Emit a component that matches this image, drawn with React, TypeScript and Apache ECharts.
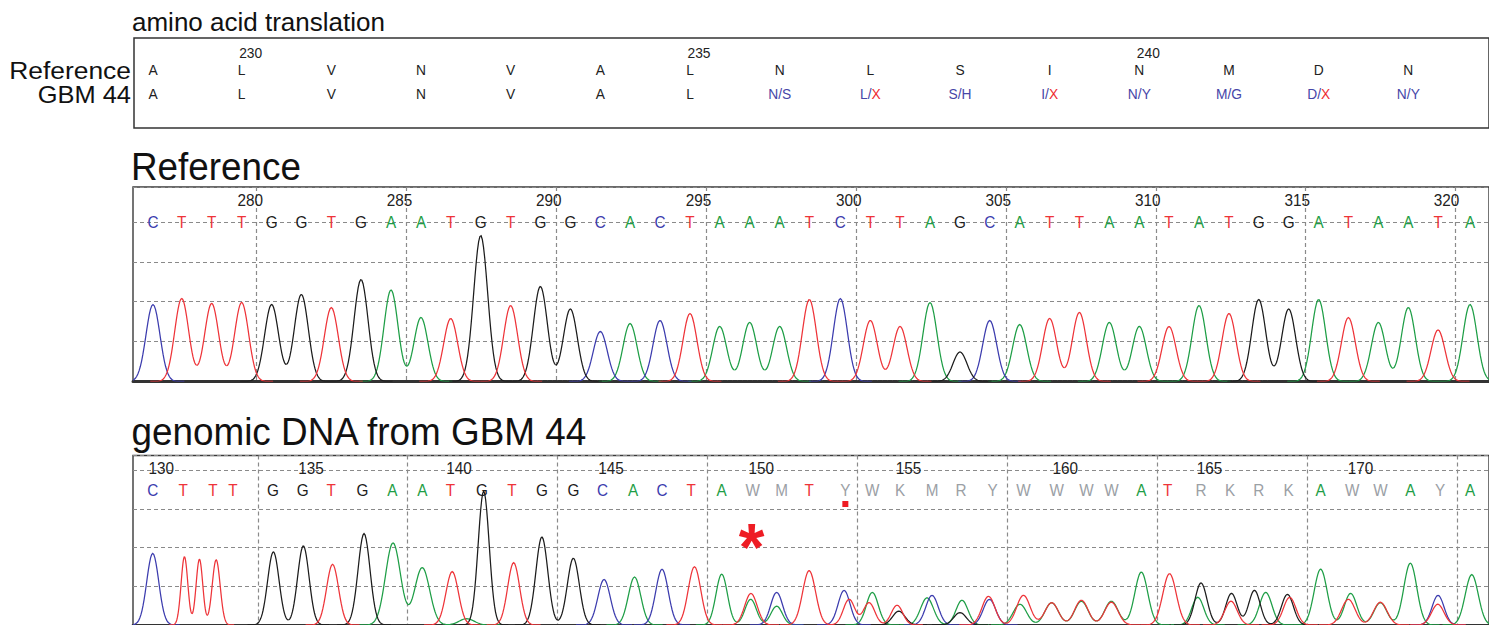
import React, { useEffect, useRef } from 'react';
import * as echarts from 'echarts';

const FONT = '"Liberation Sans", Arial, Helvetica, sans-serif';

const BASE_COLORS: Record<string, string> = { A: '#1e9e46', C: '#3c3cae', G: '#1c1c1c', T: '#ee3439' };
const AMBIG_COLOR = '#9ba0a5';
const AA_BLUE = '#4646a8';
const AA_RED = '#ee2b30';
const GRID_DASH = { color: '#8a8a8a', width: 1.2, type: [4, 3] as number[] };

// ---------- amino acid translation ----------
const aaFirstResidue = 229;
const aaReference = ['A', 'L', 'V', 'N', 'V', 'A', 'L', 'N', 'L', 'S', 'I', 'N', 'M', 'D', 'N'];
const aaGbm44 = ['A', 'L', 'V', 'N', 'V', 'A', 'L', 'N/S', 'L/X', 'S/H', 'I/X', 'N/Y', 'M/G', 'D/X', 'N/Y'];

// ---------- reference trace ----------
const refFirstBase = 277;
const refBases = ['C', 'T', 'T', 'T', 'G', 'G', 'T', 'G', 'A', 'A', 'T', 'G', 'T', 'G', 'G', 'C', 'A', 'C', 'T', 'A', 'A', 'A', 'T', 'C', 'T', 'T', 'A', 'G', 'C', 'A', 'T', 'T', 'A', 'A', 'T', 'A', 'T', 'G', 'G', 'A', 'T', 'A', 'A', 'T', 'A'];
const refBaseScans = [3318.5, 3330.0, 3342.0, 3354.0, 3366.0, 3377.9, 3389.9, 3401.8, 3413.8, 3425.8, 3437.7, 3449.7, 3461.7, 3473.6, 3485.6, 3497.6, 3509.5, 3521.5, 3533.5, 3545.4, 3557.4, 3569.4, 3581.3, 3593.7, 3605.7, 3617.6, 3629.6, 3641.6, 3653.5, 3665.5, 3677.5, 3689.4, 3701.4, 3713.4, 3725.3, 3737.3, 3749.3, 3761.2, 3773.2, 3785.2, 3797.1, 3809.1, 3821.1, 3833.0, 3845.8];
const refPeakHeights = [772, 832, 782, 792, 772, 873, 742, 1023, 918, 642, 632, 1464, 762, 953, 727, 502, 582, 612, 682, 552, 592, 552, 822, 832, 612, 552, 792, 296, 612, 572, 632, 692, 592, 552, 552, 762, 682, 822, 727, 822, 642, 592, 742, 517, 772];
const refPeakWidth = 2.8;
const refScanMin = 3310.5;
const refScanMax = 3853.4;
const refGridScans = [3360, 3420, 3480, 3540, 3600, 3660, 3720, 3780, 3840];
const refIntensityMax = 1951;

// ---------- GBM 44 trace ----------
const gbmFirstBase = 130;
const gbmBases = ['C', 'T', 'T', 'T', 'G', 'G', 'T', 'G', 'A', 'A', 'T', 'G', 'T', 'G', 'G', 'C', 'A', 'C', 'T', 'A', 'W', 'M', 'T', 'Y', 'W', 'K', 'M', 'R', 'Y', 'W', 'W', 'W', 'W', 'A', 'T', 'R', 'K', 'R', 'K', 'A', 'W', 'W', 'A', 'Y', 'A'];
const gbmBaseScans = [1577.9, 1590.1, 1602.0, 1610.0, 1626.0, 1637.9, 1649.3, 1661.9, 1673.8, 1685.8, 1697.1, 1709.7, 1721.7, 1733.7, 1746.3, 1758.0, 1770.2, 1781.8, 1793.5, 1805.7, 1818.1, 1829.7, 1840.7, 1855.2, 1866.0, 1877.1, 1889.9, 1901.5, 1914.2, 1926.5, 1939.8, 1951.7, 1961.7, 1973.7, 1984.3, 1997.6, 2009.2, 2020.7, 2032.7, 2045.5, 2058.1, 2069.4, 2081.4, 2093.3, 2105.3];
// [scan, height, width]
const gbmPeaksA = [[1674.1, 847, 3.0], [1685.8, 592, 3.0], [1703.6, 65, 3.0], [1770.8, 495, 2.5], [1805.7, 525, 2.3], [1817.3, 265, 2.3], [1827.7, 194, 2.3], [1866.0, 337, 2.4], [1887.9, 280, 2.6], [1901.9, 255, 2.4], [1925.1, 214, 2.7], [1937.8, 230, 2.7], [1949.7, 245, 2.7], [1961.7, 245, 2.7], [1973.7, 546, 2.6], [1996.3, 286, 2.4], [2023.5, 337, 2.5], [2045.5, 576, 2.6], [2057.5, 326, 2.5], [2069.4, 230, 2.6], [2081.4, 638, 2.6], [2106.0, 520, 2.6]];
const gbmPeaksC = [[1577.9, 740, 2.4], [1758.6, 470, 2.5], [1781.8, 576, 2.5], [1827.7, 337, 2.4], [1854.7, 357, 2.4], [1889.9, 306, 2.5], [1912.9, 265, 2.5], [2092.5, 306, 2.4]];
const gbmPeaksG = [[1626.2, 755, 2.3], [1638.2, 816, 2.3], [1662.5, 944, 2.4], [1710.4, 1380, 2.2], [1733.7, 908, 2.4], [1746.3, 689, 2.4], [1876.6, 143, 2.5], [1901.1, 128, 2.5], [1997.6, 434, 2.4], [2009.8, 326, 2.3], [2019.0, 357, 2.3], [2032.2, 316, 2.4]];
const gbmPeaksT = [[1590.6, 704, 1.35], [1596.6, 678, 1.35], [1603.3, 673, 1.6], [1649.9, 627, 2.4], [1697.8, 551, 2.5], [1722.4, 643, 2.4], [1794.8, 602, 2.5], [1817.4, 326, 2.5], [1840.7, 561, 2.6], [1856.7, 265, 2.3], [1864.7, 230, 2.3], [1875.9, 204, 2.3], [1912.5, 296, 2.6], [1926.5, 306, 2.7], [1937.8, 230, 2.7], [1949.7, 255, 2.7], [1961.7, 235, 2.7], [1985.0, 530, 2.7], [2009.6, 245, 2.5], [2033.1, 286, 2.5], [2056.6, 265, 2.7], [2069.4, 235, 2.7], [2092.4, 214, 2.5]];
const gbmScanMin = 1570;
const gbmScanMax = 2112.9;
const gbmGridScans = [1620, 1680, 1740, 1800, 1860, 1920, 1980, 2040, 2100];
const gbmIntensityMax = 1750;
const gbmMutationBase = 150;
const gbmMarkedBase = 153;

const intensityStep = 400;

function traceSeries(peaks: number[][], color: string, gi: number) {
  const sorted = peaks.slice().sort((a, b) => a[0] - b[0]);
  return {
    type: 'custom',
    xAxisIndex: gi,
    yAxisIndex: gi,
    silent: true,
    clip: true,
    z: 3,
    data: sorted,
    encode: { x: 0, y: 1 },
    renderItem: (params: any, api: any) => {
      const i = params.dataIndex;
      const s = sorted[i][0];
      const sg = sorted[i][2];
      let a = s - 4.5 * sg;
      let b = s + 4.5 * sg;
      if (i > 0) a = Math.max(a, (sorted[i - 1][0] + s) / 2);
      if (i < sorted.length - 1) b = Math.min(b, (sorted[i + 1][0] + s) / 2);
      const pts: number[][] = [];
      const n = 50;
      for (let k = 0; k <= n; k++) {
        const x = a + ((b - a) * k) / n;
        let y = 0;
        for (const p of sorted) {
          const d = (x - p[0]) / p[2];
          if (Math.abs(d) < 7) y += p[1] * Math.exp(-0.5 * d * d);
        }
        pts.push(api.coord([x, y]));
      }
      return { type: 'polyline', shape: { points: pts }, style: { stroke: color, lineWidth: 1.25, fill: 'none' } };
    },
  };
}

function letterSeries(bases: string[], scans: number[], firstNum: number, gi: number) {
  return {
    type: 'custom',
    xAxisIndex: gi,
    yAxisIndex: gi,
    silent: true,
    clip: false,
    z: 5,
    data: scans.map((s) => [s, 0]),
    encode: { x: 0, y: 1 },
    renderItem: (params: any, api: any) => {
      const i = params.dataIndex;
      const p = api.coord([scans[i], 0]);
      const top = params.coordSys.y;
      const b = bases[i];
      const children: any[] = [
        {
          type: 'text',
          x: p[0],
          y: top + 34.5,
          scaleX: 0.9,
          style: { text: b, fill: BASE_COLORS[b] || AMBIG_COLOR, fontSize: 17, fontFamily: FONT, textAlign: 'center', textVerticalAlign: 'middle' },
        },
      ];
      const num = firstNum + i;
      if (num % 5 === 0) {
        children.push({
          type: 'text',
          x: p[0] + 8.5,
          y: top + 12.5,
          scaleX: 0.9,
          style: { text: String(num), fill: '#222', fontSize: 17, fontFamily: FONT, textAlign: 'center', textVerticalAlign: 'middle' },
        });
      }
      return { type: 'group', children };
    },
  };
}

function aaRich(code: string) {
  if (code.indexOf('/') < 0) return `{k|${code}}`;
  const [a, b] = code.split('/');
  if (b === 'X') return `{b|${a}/}{r|X}`;
  return `{b|${a}/${b}}`;
}

const App: React.FC = () => {
  const ref = useRef<HTMLDivElement>(null);
  useEffect(() => {
    if (!ref.current) return;
    const chart = echarts.init(ref.current, undefined, { renderer: 'svg' });
    const aaScans = aaReference.map((_, i) => refBaseScans[i * 3]);
    const richBase = { fontSize: 15, fontFamily: FONT };

    const refPeaks = (b: string) =>
      refBases.map((x, i) => (x === b ? [refBaseScans[i], refPeakHeights[i], refPeakWidth] : null)).filter((v) => v) as number[][];

    const xCommon = {
      type: 'value',
      axisTick: { show: false },
      axisLabel: { show: false },
    };
    const yCommon = {
      type: 'value',
      min: 0,
      interval: intensityStep,
      axisLine: { show: false },
      axisTick: { show: false },
      axisLabel: { show: false },
      splitLine: { show: true, lineStyle: GRID_DASH },
    };

    const option: any = {
      animation: false,
      grid: [
        { left: 134, top: 38, right: -5, height: 90, show: true, borderColor: '#333', borderWidth: 1.5 },
        { left: 133, top: 187, right: -5, height: 194.5, show: true, borderColor: '#3a3a3a', borderWidth: 1.4 },
        { left: 133, top: 455.5, right: -5, height: 172, show: true, borderColor: '#3a3a3a', borderWidth: 1.4 },
      ],
      xAxis: [
        { gridIndex: 0, type: 'value', min: refScanMin + 1 / 2.507, max: refScanMax, show: false },
        {
          ...xCommon,
          gridIndex: 1,
          min: refScanMin,
          max: refScanMax,
          axisLine: { show: true, onZero: false, lineStyle: { color: '#333', width: 3, type: [4, 1] } },
          axisTick: { show: false, customValues: refGridScans },
          splitLine: { show: true, lineStyle: GRID_DASH },
        },
        {
          ...xCommon,
          gridIndex: 2,
          min: gbmScanMin,
          max: gbmScanMax,
          axisLine: { show: true, onZero: false, lineStyle: { color: '#333', width: 3 } },
          axisTick: { show: false, customValues: gbmGridScans },
          splitLine: { show: true, lineStyle: GRID_DASH },
        },
      ],
      yAxis: [
        { gridIndex: 0, type: 'value', min: 0, max: 1, show: false },
        { ...yCommon, gridIndex: 1, max: refIntensityMax },
        { ...yCommon, gridIndex: 2, max: gbmIntensityMax },
      ],
      series: [
        // amino acids
        {
          type: 'custom',
          xAxisIndex: 0,
          yAxisIndex: 0,
          silent: true,
          clip: false,
          data: aaScans.map((s) => [s, 0]),
          encode: { x: 0, y: 1 },
          renderItem: (params: any, api: any) => {
            const i = params.dataIndex;
            const p = api.coord([aaScans[i], 0]);
            const top = params.coordSys.y;
            const children: any[] = [
              {
                type: 'text', x: p[0], y: top + 32, scaleX: 0.92,
                style: { text: aaReference[i], fill: '#222', fontSize: 15, fontFamily: FONT, textAlign: 'center', textVerticalAlign: 'middle' },
              },
              {
                type: 'text', x: p[0], y: top + 55.5, scaleX: 0.92,
                style: {
                  text: aaRich(aaGbm44[i]), textAlign: 'center', textVerticalAlign: 'middle', fontSize: 15, fontFamily: FONT,
                  rich: {
                    k: { ...richBase, fill: '#222', color: '#222' },
                    b: { ...richBase, fill: AA_BLUE, color: AA_BLUE },
                    r: { ...richBase, fill: AA_RED, color: AA_RED },
                  },
                },
              },
            ];
            const res = aaFirstResidue + i;
            if (res % 5 === 0) {
              children.push({
                type: 'text', x: p[0] + 9, y: top + 14.5, scaleX: 0.92,
                style: { text: String(res), fill: '#222', fontSize: 15, fontFamily: FONT, textAlign: 'center', textVerticalAlign: 'middle' },
              });
            }
            return { type: 'group', children };
          },
        },
        // reference traces
        traceSeries(refPeaks('A'), BASE_COLORS.A, 1),
        traceSeries(refPeaks('C'), BASE_COLORS.C, 1),
        traceSeries(refPeaks('G'), BASE_COLORS.G, 1),
        traceSeries(refPeaks('T'), BASE_COLORS.T, 1),
        letterSeries(refBases, refBaseScans, refFirstBase, 1),
        // GBM traces
        traceSeries(gbmPeaksA, BASE_COLORS.A, 2),
        traceSeries(gbmPeaksC, BASE_COLORS.C, 2),
        traceSeries(gbmPeaksG, BASE_COLORS.G, 2),
        traceSeries(gbmPeaksT, BASE_COLORS.T, 2),
        letterSeries(gbmBases, gbmBaseScans, gbmFirstBase, 2),
        // annotations
        {
          type: 'custom',
          xAxisIndex: 2,
          yAxisIndex: 2,
          silent: true,
          clip: false,
          z: 6,
          data: [[gbmBaseScans[gbmMutationBase - gbmFirstBase], 0], [gbmBaseScans[gbmMarkedBase - gbmFirstBase], 1]],
          encode: { x: 0, y: 1 },
          renderItem: (params: any, api: any) => {
            const i = params.dataIndex;
            const top = params.coordSys.y;
            if (i === 0) {
              const p = api.coord([gbmBaseScans[gbmMutationBase - gbmFirstBase], 0]);
              return {
                type: 'text', x: p[0] - 1, y: top + 91,
                style: { text: '*', fill: '#ee1c24', fontSize: 66, fontWeight: 'bold', fontFamily: FONT, textAlign: 'center', textVerticalAlign: 'middle' },
              };
            }
            const p = api.coord([gbmBaseScans[gbmMarkedBase - gbmFirstBase], 0]);
            return { type: 'rect', shape: { x: p[0] - 3, y: top + 45.5, width: 6, height: 6 }, style: { fill: '#ee1c24' } };
          },
        },
      ],
      graphic: [
        { type: 'text', x: 132, y: 22, style: { text: 'amino acid translation', fontSize: 26, fontFamily: FONT, fill: '#111', textAlign: 'left', textVerticalAlign: 'middle' } },
        { type: 'text', x: 131, y: 70, scaleX: 1.1, style: { text: 'Reference', fontSize: 24, fontFamily: FONT, fill: '#111', textAlign: 'right', textVerticalAlign: 'middle' } },
        { type: 'text', x: 131, y: 95, scaleX: 1.06, style: { text: 'GBM 44', fontSize: 24, fontFamily: FONT, fill: '#111', textAlign: 'right', textVerticalAlign: 'middle' } },
        { type: 'text', x: 131, y: 166.5, scaleX: 0.945, style: { text: 'Reference', fontSize: 39, fontFamily: FONT, fill: '#111', textAlign: 'left', textVerticalAlign: 'middle' } },
        { type: 'text', x: 131.5, y: 431.5, scaleX: 0.945, style: { text: 'genomic DNA from GBM 44', fontSize: 39, fontFamily: FONT, fill: '#111', textAlign: 'left', textVerticalAlign: 'middle' } },
      ],
    };
    chart.setOption(option);
    return () => chart.dispose();
  }, []);
  return <div ref={ref} style={{ position: 'absolute', left: 0, top: 0, width: 1489, height: 625, background: '#fff' }} />;
};

export default App;
